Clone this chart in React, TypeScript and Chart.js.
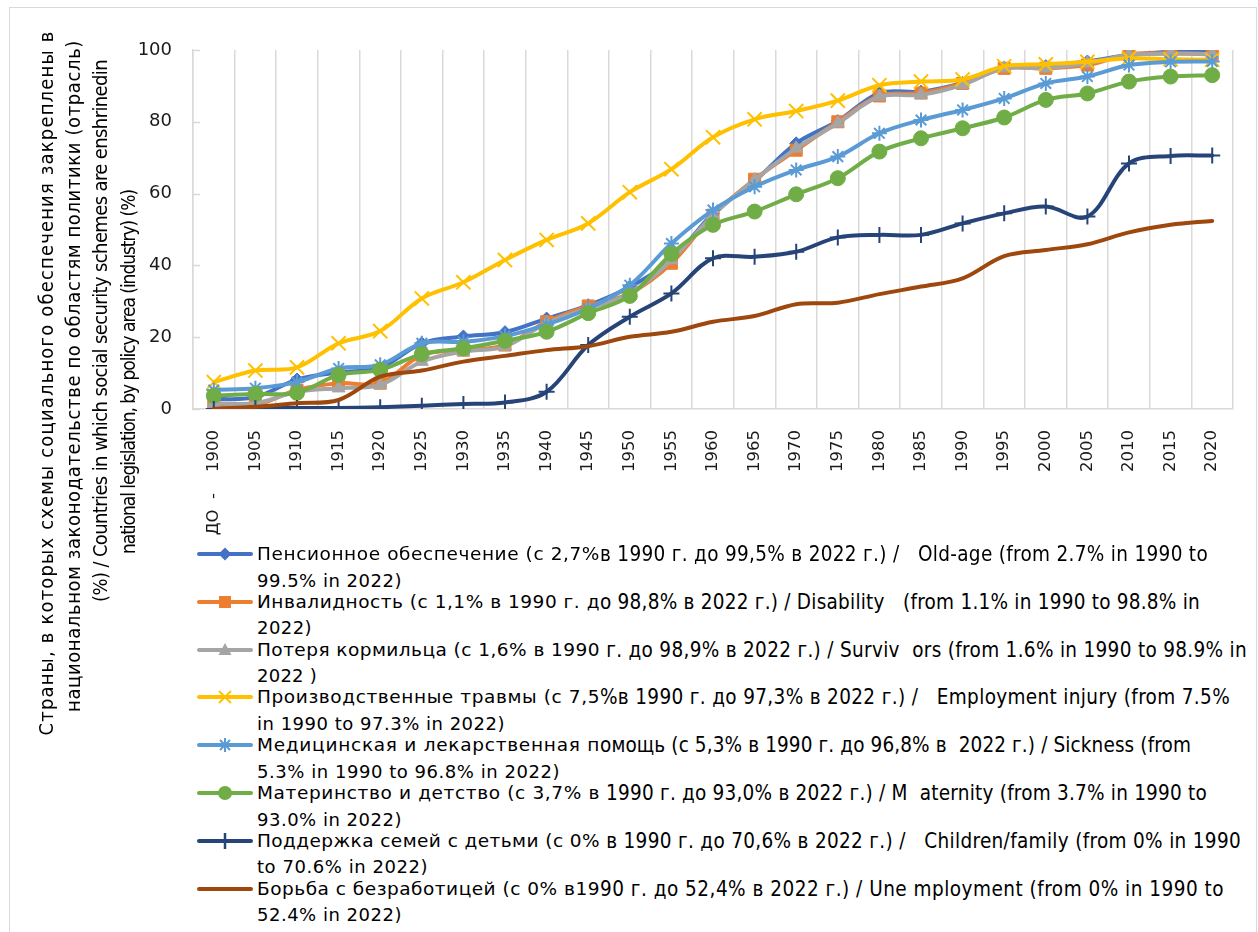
import React, { useEffect, useRef } from "react";
import { Chart, registerables } from "chart.js";
Chart.register(...registerables);

const categories = ["ДО  -    1900", "1905", "1910", "1915", "1920", "1925", "1930", "1935", "1940", "1945", "1950", "1955", "1960", "1965", "1970", "1975", "1980", "1985", "1990", "1995", "2000", "2005", "2010", "2015", "2020"];

const oldAge = [2.7, 3.3, 8.2, 10.2, 11.5, 18.3, 20.2, 21.4, 25.2, 28.9, 34.0, 41.5, 54.5, 63.5, 74.0, 80.2, 88.0, 88.4, 90.8, 95.0, 95.5, 96.8, 98.6, 99.5, 99.5];
const disability = [1.1, 1.1, 5.3, 7.2, 7.2, 15.0, 16.4, 17.8, 24.3, 28.7, 32.2, 40.6, 54.0, 64.0, 72.1, 80.0, 87.2, 88.0, 90.7, 94.9, 94.9, 95.8, 98.8, 99.0, 98.8];
const survivors = [1.6, 1.6, 4.8, 5.8, 6.7, 13.2, 16.0, 17.4, 23.9, 28.0, 32.2, 41.5, 54.0, 63.8, 72.6, 79.6, 87.0, 87.5, 90.3, 94.9, 94.9, 96.3, 98.6, 99.0, 98.9];
const employmentInjury = [7.5, 10.7, 11.6, 18.3, 21.7, 30.8, 35.3, 41.5, 47.1, 51.7, 60.4, 66.8, 75.7, 80.7, 83.0, 85.9, 90.2, 91.2, 91.8, 95.5, 96.0, 96.7, 97.7, 97.4, 97.3];
const sickness = [5.3, 5.8, 7.5, 11.3, 12.3, 18.3, 18.7, 20.3, 23.5, 28.0, 34.5, 46.1, 55.4, 61.9, 66.6, 70.3, 76.8, 80.5, 83.3, 86.5, 90.7, 92.6, 95.8, 96.7, 96.8];
const maternity = [3.7, 4.2, 4.5, 9.5, 10.9, 15.3, 16.9, 19.0, 21.5, 26.7, 31.5, 43.2, 51.3, 55.0, 59.8, 64.3, 71.7, 75.4, 78.2, 81.2, 86.1, 87.9, 91.2, 92.6, 93.0];
const family = [0, 0.2, 0.3, 0.3, 0.5, 0.9, 1.4, 1.8, 4.8, 17.8, 25.7, 32.2, 42.0, 42.4, 43.8, 47.8, 48.5, 48.5, 51.7, 54.5, 56.4, 53.6, 68.4, 70.5, 70.6];
const unemployment = [0, 0.6, 1.6, 2.5, 9.0, 10.7, 13.2, 14.8, 16.4, 17.5, 20.1, 21.5, 24.3, 25.9, 29.2, 29.6, 32.0, 34.1, 36.4, 42.6, 44.3, 45.9, 49.2, 51.3, 52.4];

const seriesValues = [oldAge, disability, survivors, employmentInjury, sickness, maternity, family, unemployment];
const seriesColors = ["#4472C4", "#ED7D31", "#A5A5A5", "#FFC000", "#5B9BD5", "#70AD47", "#264478", "#9E480E"];
const seriesMarkers = ["rectRot", "rect", "triangle", "crossRot", "star", "circle", "cross", "none"];
const markerRadius = [6.5, 8.5, 7.5, 10, 7.5, 7.5, 8, 0];

const yTicks = [0, 20, 40, 60, 80, 100];

const yTitleLines = [
  "Страны, в которых схемы социального обеспечения закреплены в",
  "национальном законодательстве по областям политики (отрасль)",
  "(%) / Countries in which social security schemes are enshrinedin",
  "national legislation, by policy area (industry) (%)",
];

const legendWide = [
  "Пенсионное обеспечение (с 2,7%",
  "Инвалидность (с 1,1% в 1990 г. д",
  "Потеря кормильца (с 1,6% в 1990",
  "Производственные травмы (с 7,5",
  "Медицинская и лекарственная п",
  "Материнство и детство (с 3,7% в",
  "Поддержка семей с детьми (с 0%",
  "Борьба с безработицей (с 0% в19",
];
const legendCondensed = [
  "в 1990 г. до 99,5% в 2022 г.) /   Old-age (from 2.7% in 1990 to",
  "о 98,8% в 2022 г.) / Disability   (from 1.1% in 1990 to 98.8% in",
  " г. до 98,9% в 2022 г.) / Surviv  ors (from 1.6% in 1990 to 98.9% in",
  "%в 1990 г. до 97,3% в 2022 г.) /   Employment injury (from 7.5%",
  "омощь (с 5,3% в 1990 г. до 96,8% в  2022 г.) / Sickness (from",
  " 1990 г. до 93,0% в 2022 г.) / M  aternity (from 3.7% in 1990 to",
  " в 1990 г. до 70,6% в 2022 г.) /   Children/family (from 0% in 1990",
  "90 г. до 52,4% в 2022 г.) / Une mployment (from 0% in 1990 to",
];
const legendSecondLine = [
  "99.5% in 2022)",
  "2022)",
  "2022 )",
  "in 1990 to 97.3% in 2022)",
  "5.3% in 1990 to 96.8% in 2022)",
  "93.0% in 2022)",
  "to 70.6% in 2022)",
  "52.4% in 2022)",
];

// layout (page pixel coordinates)
const OX = 10, OY = 8;
const LEG_TEXT_X = 257, LEG_SPLIT_X = 600;
const legLine1End = [1208, 1200, 1247, 1230, 1191, 1207, 1241, 1224];
const legLine2End = [402, 312, 317, 505, 560, 402, 428, 402];
const LEG_Y0 = 554, LEG_STEP = 47.8, LEG_LINE2 = 26.5;
const titleX = [45, 73, 100, 128];
const titleSpan = [[30, 735], [40, 712], [60, 602], [190, 554]];
const titleSize = [20, 20, 20, 19];

const GRID = "#d9d9d9";
const WIDE_FONT = '"DejaVu Sans", Verdana, sans-serif';
const COND_FONT = '"DejaVu Sans Condensed", "DejaVu Sans", sans-serif';

let mctx: CanvasRenderingContext2D | null = null;
function spacingFor(text: string, family: string, size: number, target: number) {
  if (!mctx) mctx = document.createElement("canvas").getContext("2d");
  if (!mctx) return 0;
  mctx.font = `${size}px ${family}`;
  const w = mctx.measureText(text).width;
  return (target - w) / text.length;
}

function FitText({ text, family, size, x0, x1, cy, color = "#000" }: any) {
  const ls = spacingFor(text, family, size, x1 - x0);
  const lh = 24;
  return (
    <div style={{ position: "absolute", left: x0 - OX, top: cy - OY - lh / 2, height: lh, lineHeight: `${lh}px`, fontFamily: family, fontSize: size, letterSpacing: `${ls}px`, whiteSpace: "pre", color }}>
      {text}
    </div>
  );
}

function RotText({ text, family, size, cx, y0, y1 }: any) {
  const len = y1 - y0;
  const ls = spacingFor(text, family, size, len);
  const h = 28;
  const cy = (y0 + y1) / 2;
  return (
    <div style={{ position: "absolute", left: cx - OX - len / 2, top: cy - OY - h / 2, width: len, height: h, lineHeight: `${h}px`, transform: "rotate(-90deg)", transformOrigin: "50% 50%", fontFamily: family, fontSize: size, letterSpacing: `${ls}px`, whiteSpace: "pre", color: "#000" }}>
      {text}
    </div>
  );
}

const innerTicks = {
  id: "innerTicks",
  beforeDatasetsDraw(chart: any) {
    const { ctx, chartArea, scales } = chart;
    const y = scales.y;
    ctx.save();
    ctx.strokeStyle = GRID;
    ctx.lineWidth = 1.5;
    y.ticks.forEach((_t: any, i: number) => {
      const py = Math.round(y.getPixelForTick(i)) + 0.5;
      ctx.beginPath();
      ctx.moveTo(chartArea.left, py);
      ctx.lineTo(chartArea.left + 7, py);
      ctx.stroke();
    });
    ctx.restore();
  },
};

function Marker({ kind, color, top }: { kind: string; color: string; top: number }) {
  const cx = 28, cy = 12;
  let m: any = null;
  if (kind === "rectRot") m = <polygon points={`${cx},${cy - 6.5} ${cx + 6.5},${cy} ${cx},${cy + 6.5} ${cx - 6.5},${cy}`} fill={color} />;
  else if (kind === "rect") m = <rect x={cx - 6} y={cy - 6} width={12} height={12} fill={color} />;
  else if (kind === "triangle") m = <polygon points={`${cx},${cy - 7} ${cx + 6.5},${cy + 5} ${cx - 6.5},${cy + 5}`} fill={color} />;
  else if (kind === "crossRot") m = <g stroke={color} strokeWidth={2}><line x1={cx - 6} y1={cy - 6} x2={cx + 6} y2={cy + 6} /><line x1={cx - 6} y1={cy + 6} x2={cx + 6} y2={cy - 6} /></g>;
  else if (kind === "star") m = <g stroke={color} strokeWidth={2}><line x1={cx} y1={cy - 7} x2={cx} y2={cy + 7} /><line x1={cx - 5} y1={cy - 5} x2={cx + 5} y2={cy + 5} /><line x1={cx - 5} y1={cy + 5} x2={cx + 5} y2={cy - 5} /></g>;
  else if (kind === "circle") m = <circle cx={cx} cy={cy} r={7} fill={color} />;
  else if (kind === "cross") m = <line x1={cx} y1={cy - 8} x2={cx} y2={cy + 8} stroke={color} strokeWidth={2.5} />;
  return (
    <svg width={60} height={24} style={{ position: "absolute", left: 197 - OX, top: top - OY - 12 }}>
      <line x1={2} y1={cy} x2={54} y2={cy} stroke={color} strokeWidth={4} strokeLinecap="round" />
      {m}
    </svg>
  );
}

export default function App() {
  const ref = useRef<HTMLCanvasElement | null>(null);

  useEffect(() => {
    if (!ref.current) return;
    const datasets = seriesValues.map((vals, i) => ({
      label: legendWide[i],
      data: vals,
      borderColor: seriesColors[i],
      backgroundColor: seriesColors[i],
      pointBackgroundColor: seriesColors[i],
      pointBorderColor: seriesColors[i],
      pointBorderWidth: seriesMarkers[i] === "crossRot" || seriesMarkers[i] === "star" || seriesMarkers[i] === "cross" ? 2 : 1,
      pointStyle: seriesMarkers[i] === "none" ? false : seriesMarkers[i],
      pointRadius: markerRadius[i],
      borderWidth: 4,
      borderCapStyle: "round",
      borderJoinStyle: "round",
      tension: 0.35,
      order: seriesValues.length - 1 - i,
    }));
    const chart = new Chart(ref.current, {
      type: "line",
      data: { labels: categories, datasets: datasets as any },
      options: {
        responsive: false,
        animation: false,
        layout: { padding: { top: 42, right: 23, left: 0, bottom: 0 } },
        plugins: { legend: { display: false }, tooltip: { enabled: false } },
        scales: {
          x: {
            offset: true,
            grid: { display: true, offset: true, color: GRID, lineWidth: 1.5, drawTicks: false },
            border: { display: true, color: GRID, width: 1.5 },
            ticks: {
              autoSkip: false,
              minRotation: 90,
              maxRotation: 90,
              padding: 21,
              color: "#1a1a1a",
              font: { family: '"DejaVu Sans", sans-serif', size: 16.5 },
            },
            afterFit: (s: any) => { s.height = 144; },
          },
          y: {
            min: 0,
            max: 100,
            afterBuildTicks: (s: any) => { s.ticks = yTicks.map((v) => ({ value: v })); },
            grid: { display: false, drawTicks: false },
            border: { display: true, color: GRID, width: 1.5 },
            ticks: {
              padding: 21,
              color: "#1a1a1a",
              font: { family: '"DejaVu Sans", sans-serif', size: 18 },
            },
            afterFit: (s: any) => { s.width = 183; },
          },
        },
      },
      plugins: [innerTicks],
    });
    return () => chart.destroy();
  }, []);

  return (
    <div style={{ position: "absolute", left: 9, top: 7, width: 1246, height: 930, border: `1px solid ${GRID}`, background: "#fff", overflow: "hidden" }}>
      <canvas ref={ref} width={1246} height={545} style={{ display: "block", position: "absolute", left: 0, top: 0 }} />
      {yTitleLines.map((t, i) => (
        <RotText key={i} text={t} family={COND_FONT} size={titleSize[i]} cx={titleX[i]} y0={titleSpan[i][0]} y1={titleSpan[i][1]} />
      ))}
      {legendWide.map((w, i) => {
        const cy = LEG_Y0 + LEG_STEP * i;
        return (
          <React.Fragment key={i}>
            <Marker kind={seriesMarkers[i]} color={seriesColors[i]} top={cy} />
            <FitText text={w} family={WIDE_FONT} size={18.5} x0={LEG_TEXT_X} x1={LEG_SPLIT_X} cy={cy} />
            <FitText text={legendCondensed[i]} family={COND_FONT} size={20.5} x0={LEG_SPLIT_X} x1={legLine1End[i]} cy={cy} />
            <FitText text={legendSecondLine[i]} family={WIDE_FONT} size={18} x0={LEG_TEXT_X} x1={legLine2End[i]} cy={cy + LEG_LINE2} />
          </React.Fragment>
        );
      })}
    </div>
  );
}
